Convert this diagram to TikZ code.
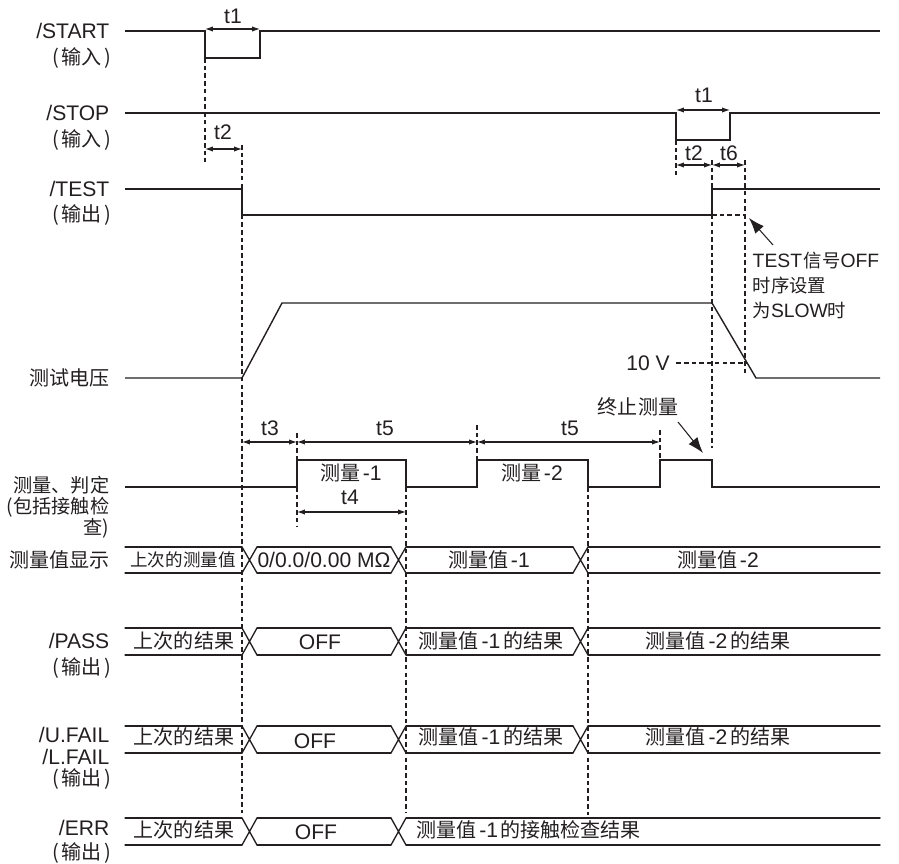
\documentclass[tikz,border=0pt]{standalone}
\usepackage{fontspec}
\setmainfont{Liberation Sans}
\newfontfamily\cjk[Scale=0.95]{Noto Sans CJK SC}
\usetikzlibrary{arrows.meta}
\definecolor{ink}{HTML}{231F20}
\newcommand{\zh}[1]{{\cjk #1}}
\newcommand{\iolab}[1]{\zh{(\kern1.5pt #1\kern1.5pt)}}
% bus row: top y, bottom y, x where each crossing starts
\newcommand{\busrow}[3]{%
  \foreach \t [remember=\t as \p (initially 110)] in {#3,880}
    {\draw[busline] (\p+15,#1) -- (\t,#1) (\p+15,#2) -- (\t,#2);}
  \foreach \t in {#3}
    {\draw[busline] (\t,#1) -- (\t+15,#2) (\t,#2) -- (\t+15,#1);}}

\begin{document}
\begin{tikzpicture}[x=0.02cm,y=-0.02cm,color=ink,line width=0.8pt,
  font=\fontsize{12}{14}\selectfont,>={Latex[length=4.5pt,width=3pt]},
  sig/.style={anchor=east,inner sep=0pt},
  io/.style={anchor=east,inner sep=0pt},
  guide/.style={line width=0.6pt,dash pattern=on 2.6pt off 1.8pt},
  dim/.style={<->,line width=0.6pt},
  busline/.style={line width=0.75pt,line cap=round,line join=round},
  callout/.style={-{Latex[length=9pt,width=6.5pt]},line width=0.6pt}]
  \useasboundingbox (0,0) rectangle (899,864);

  % signal names
  \node[sig] (lstart) at (110,31) {/START};
  \node[io] (lstartio) at (112,58) {\iolab{输入}};
  \node[sig] (lstop) at (110,113) {/STOP};
  \node[io] (lstopio) at (112,140) {\iolab{输入}};
  \node[sig] (ltest) at (110,189) {/TEST};
  \node[io] (ltestio) at (112,215) {\iolab{输出}};
  \node[sig] (lvolt) at (110,378) {\zh{测试电压}};
  \node[sig,font=\fontsize{11.5}{13}\selectfont] (lmeas) at (110,485) {\zh{测量、判定}};
  \node[sig,font=\fontsize{11.5}{13}\selectfont] (lmeasb) at (110,507) {\zh{(包括接触检}};
  \node[sig,font=\fontsize{11.5}{13}\selectfont] (lmeasc) at (110,528) {\zh{查)}};
  \node[sig] (ldisp) at (110,560) {\zh{测量值显示}};
  \node[sig] (lpass) at (110,641) {/PASS};
  \node[io] (lpassio) at (112,668) {\iolab{输出}};
  \node[sig] (lufail) at (110,735) {/U.FAIL};
  \node[sig] (llfail) at (110,757) {/L.FAIL};
  \node[io] (lfailio) at (112,779) {\iolab{输出}};
  \node[sig] (lerr) at (110,828) {/ERR};
  \node[io] (lerrio) at (112,853) {\iolab{输出}};

  % waveforms
  \draw (125,31) -- (205,31) -- (205,58) -- (260,58) -- (260,31) -- (880,31);
  \draw (125,113) -- (676,113) -- (676,140) -- (730,140) -- (730,113) -- (880,113);
  \draw (125,189) -- (242,189) -- (242,215) -- (712,215) -- (712,189) -- (880,189);
  \draw[guide] (712,215) -- (745,215);
  \draw (125,378) -- (242,378) -- (282,303) -- (712,303) -- (756,378) -- (880,378);
  \draw (125,487) -- (297,487) -- (297,460) -- (406,460) -- (406,487)
    -- (477,487) -- (477,460) -- (588,460) -- (588,487)
    -- (660,487) -- (660,460) -- (712,460) -- (712,487) -- (880,487);
  \node (mone) at (351,473) {\zh{测量}\kern1.5pt-1};
  \node (mtwo) at (532,473) {\zh{测量}\kern1.5pt-2};

  % guide lines
  \draw[guide] (205,58) -- (205,162);
  \draw[guide] (242,145) -- (242,813);
  \draw[guide] (297,433) -- (297,460) (297,487) -- (297,527);
  \draw[guide] (406,487) -- (406,813);
  \draw[guide] (477,425) -- (477,460);
  \draw[guide] (588,487) -- (588,815);
  \draw[guide] (660,430) -- (660,460);
  \draw[guide] (676,140) -- (676,177);
  \draw[guide] (712,160) -- (712,448);
  \draw[guide] (745,160) -- (745,373);

  % intervals
  \draw[dim] (205,29) -- (260,29);
  \node (tone) at (233,16) {t1};
  \draw[dim] (205,149) -- (242,149);
  \node (ttwo) at (223,132) {t2};
  \draw[dim] (676,110) -- (730,110);
  \node (tonex) at (704,95) {t1};
  \draw[dim] (676,165) -- (712,165);
  \node (ttwox) at (694,153) {t2};
  \draw[dim] (712,165) -- (745,165);
  \node (tsix) at (729,153) {t6};
  \draw[dim] (242,442) -- (297,442);
  \node (tthree) at (270,428) {t3};
  \draw[dim] (297,442) -- (477,442);
  \node (tfive) at (385,428) {t5};
  \draw[dim] (477,442) -- (660,442);
  \node (tfivex) at (570,428) {t5};
  \draw[dim] (297,512) -- (406,512);
  \node (tfour) at (350,497) {t4};

  % notes
  \node (tenv) at (648,363) {10 V};
  \draw[guide] (tenv.east) -- (747,363);
  \node[anchor=north west,align=left,inner sep=0pt,font=\fontsize{11}{14.2}\selectfont]
    (slownote) at (752,251) {TEST\kern1pt\zh{信号}OFF\\\zh{时序设置}\\\zh{为}SLOW\zh{时}};
  \coordinate (offpt) at (749,218);
  \draw[callout] (773,245) -- (offpt);
  \node (abort) at (638,407) {\zh{终止测量}};
  \coordinate (abortpt) at (703,453);
  \draw[callout] (678,422) -- (abortpt);

  % buses
  \busrow{547}{573}{242,391,573}
  \node[font=\fontsize{10.5}{12}\selectfont] (dprev) at (183,560) {\zh{上次的测量值}};
  \node (dzero) at (324,560) {0/0.0/0.00 MΩ};
  \node (done) at (489,560) {\zh{测量值}\kern1.5pt-1};
  \node (dtwo) at (718,560) {\zh{测量值}\kern1.5pt-2};

  \busrow{628}{655}{242,391,573}
  \node (pprev) at (184,641) {\zh{上次的结果}};
  \node (poff) at (320,642) {OFF};
  \node (pone) at (491,641) {\zh{测量值}\kern1.5pt-1\kern1.5pt\zh{的结果}};
  \node (ptwo) at (718,641) {\zh{测量值}\kern1.5pt-2\kern1.5pt\zh{的结果}};

  \busrow{726}{753}{242,391,573}
  \node (fprev) at (184,737) {\zh{上次的结果}};
  \node (foff) at (315,741) {OFF};
  \node (fone) at (491,737) {\zh{测量值}\kern1.5pt-1\kern1.5pt\zh{的结果}};
  \node (ftwo) at (718,737) {\zh{测量值}\kern1.5pt-2\kern1.5pt\zh{的结果}};

  \busrow{818}{845}{242,391}
  \node (eprev) at (184,830) {\zh{上次的结果}};
  \node (eoff) at (316,832) {OFF};
  \node[anchor=west] (eone) at (410,830) {\zh{测量值}\kern1.5pt-1\kern1.5pt\zh{的接触检查结果}};
\end{tikzpicture}
\end{document}
